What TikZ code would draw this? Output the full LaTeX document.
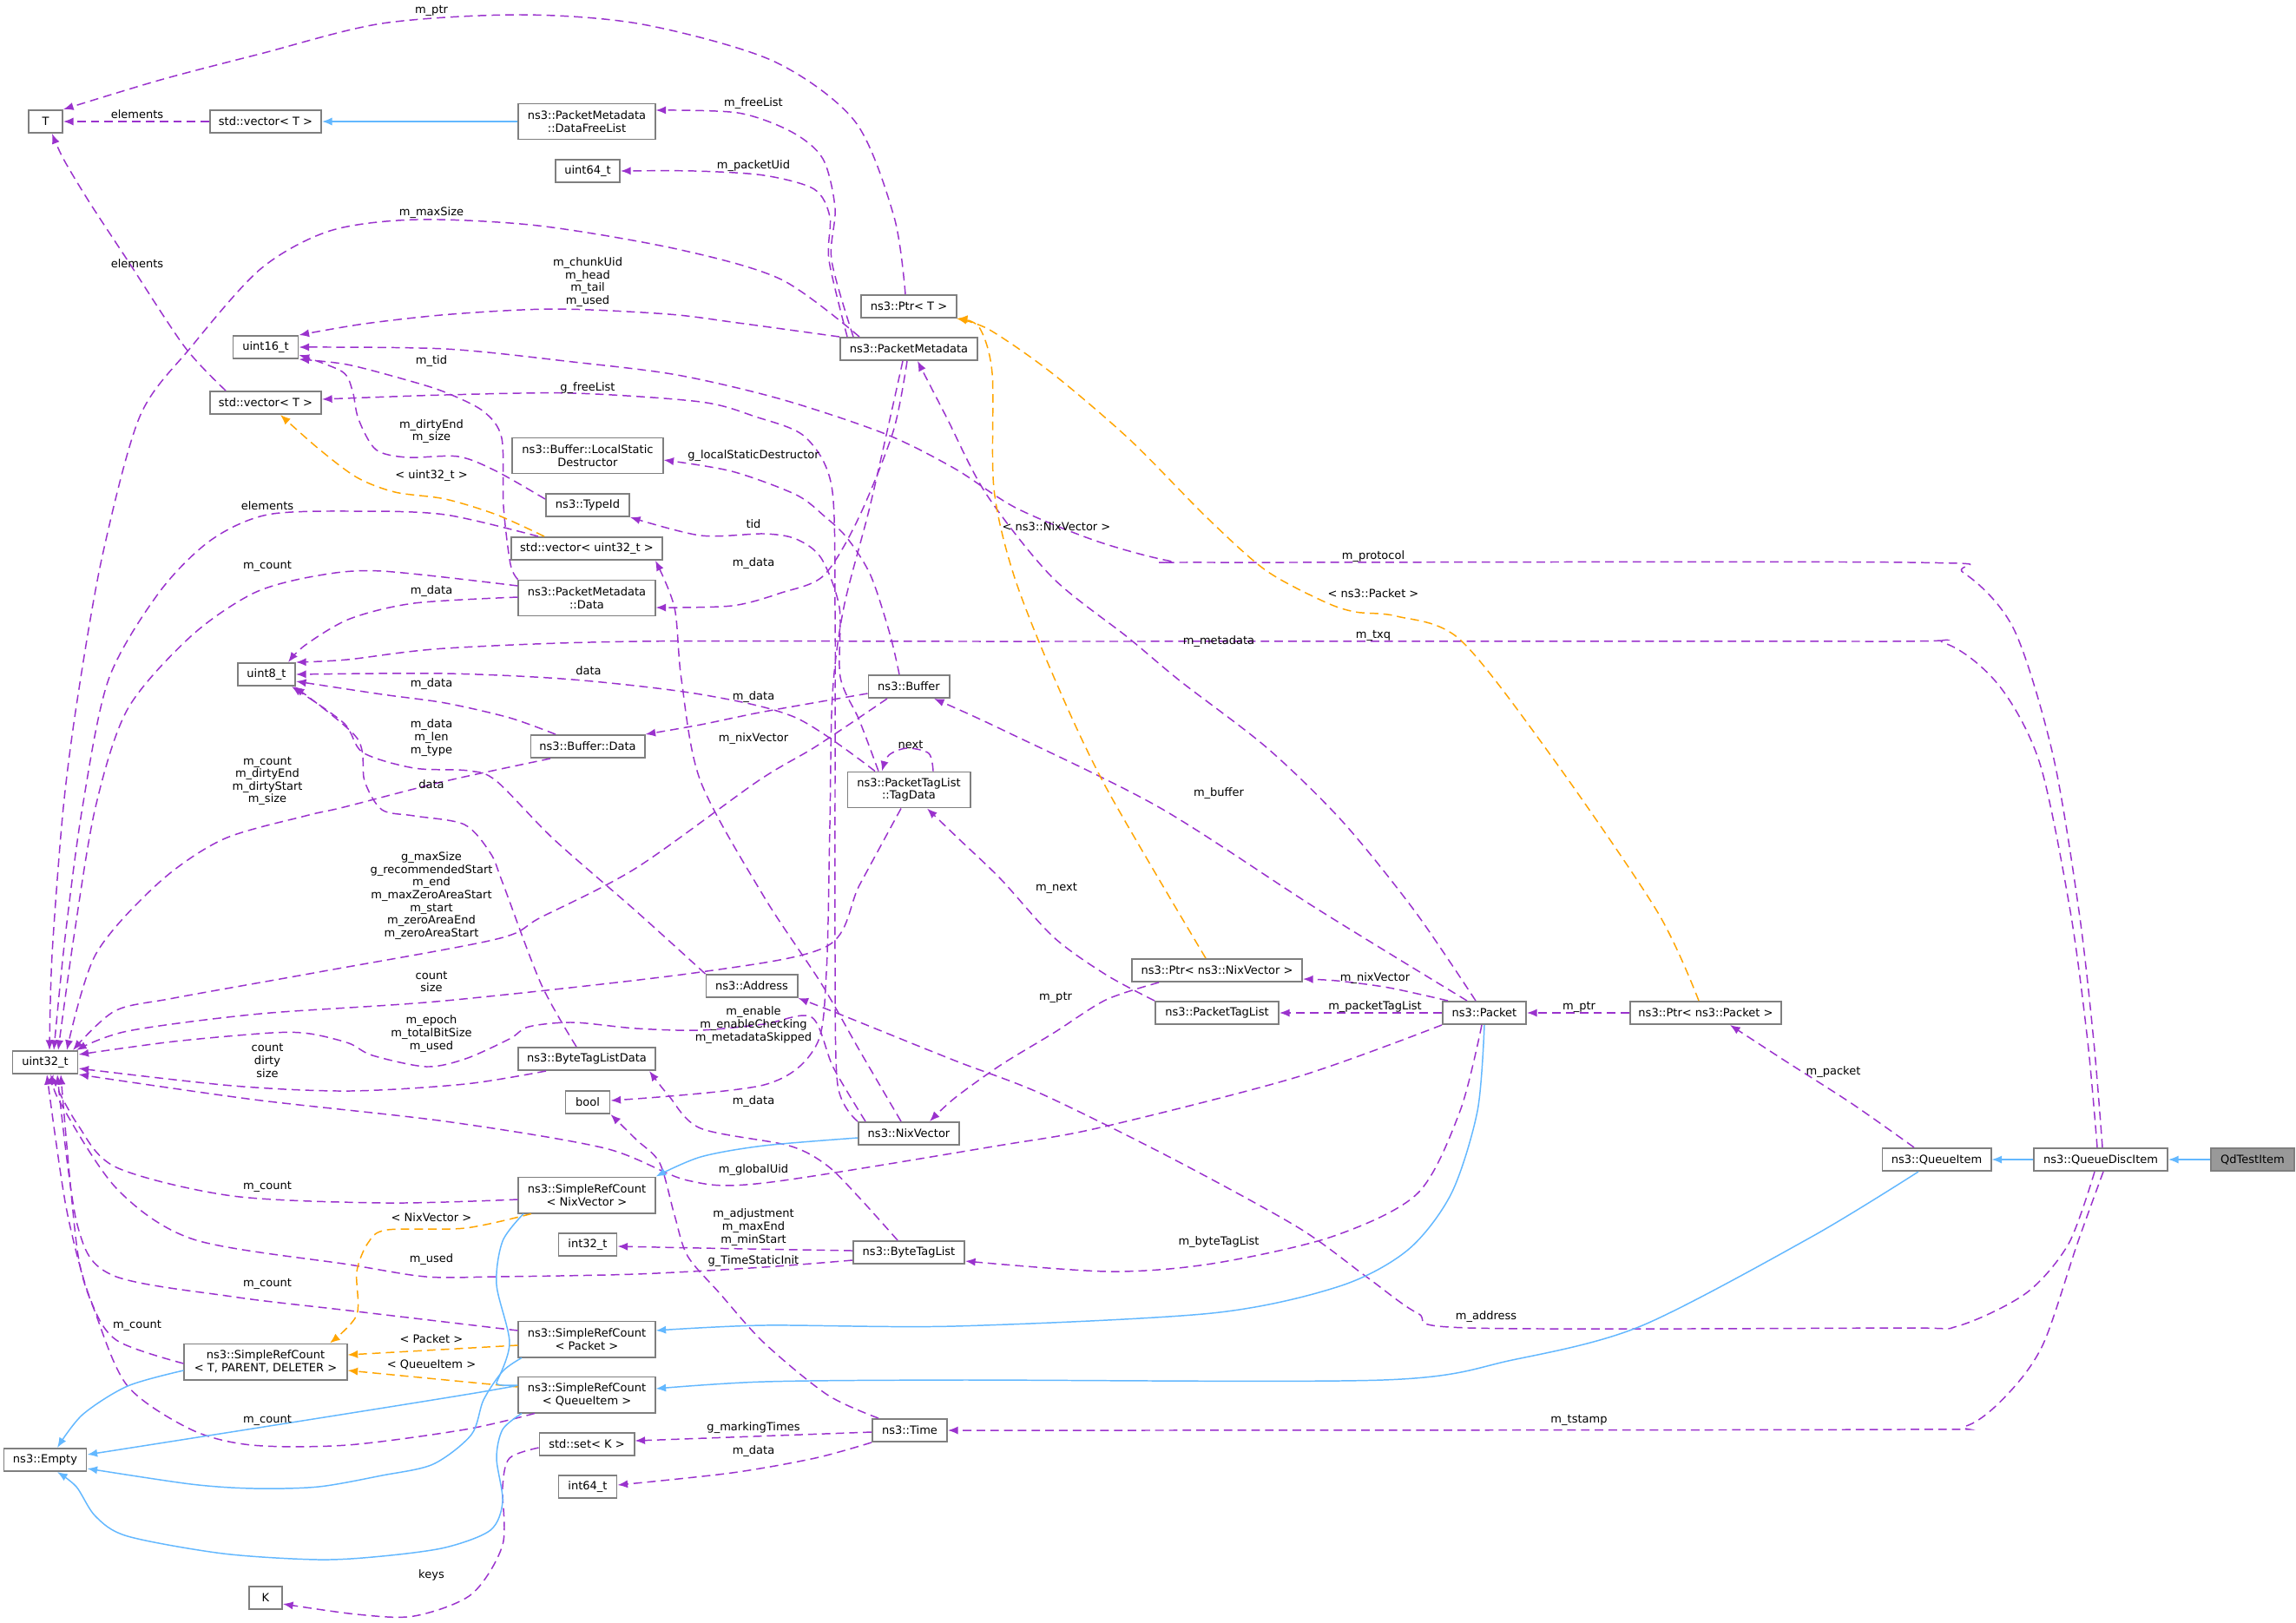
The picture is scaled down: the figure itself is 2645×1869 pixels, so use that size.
\documentclass[tikz,border=0pt]{standalone}
\usepackage{fontspec}
\setmainfont{DejaVu Sans}
\usetikzlibrary{arrows.meta}
\definecolor{purp}{HTML}{9A32CD}
\definecolor{blu}{HTML}{63B8FF}
\definecolor{orng}{HTML}{FFA500}
\definecolor{boxgray}{HTML}{7F7F7F}
\definecolor{fillgray}{HTML}{999999}
\tikzset{
  box/.style={draw=boxgray, line width=0.55pt, fill=white, inner sep=0pt, minimum height=0.26cm, align=center},
  boxtwo/.style={box, minimum height=0.41cm},
  pdep/.style={draw=purp, line width=0.42pt, dash pattern=on 2.8pt off 1.7pt, -{Latex[length=3.3pt,width=2.6pt]}},
  odep/.style={draw=orng, line width=0.42pt, dash pattern=on 2.8pt off 1.7pt, -{Latex[length=3.3pt,width=2.6pt]}},
  bdep/.style={draw=blu, line width=0.42pt, -{Latex[length=3.3pt,width=2.6pt]}},
  lab/.style={inner sep=0pt, align=center},
}
\begin{document}
\begin{tikzpicture}[x=0.01cm,y=-0.01cm, font=\fontsize{3.7}{4.15}\selectfont]
\fill[white] (0,0) rectangle (2645,1869);
\useasboundingbox (0,0) rectangle (2645,1869);

% ---------- nodes ----------
\node[box, minimum width=0.39cm] (T) at (52.5,140) {T};
\node[box, minimum width=1.28cm] (vecT) at (306,140) {std::vector< T >};
\node[boxtwo, minimum width=1.57cm] (DFL) at (676,140) {ns3::PacketMetadata\\::DataFreeList};
\node[box, minimum width=0.74cm] (u64) at (677,197) {uint64\_t};
\node[box, minimum width=1.10cm] (PtrT) at (1047,353) {ns3::Ptr< T >};
\node[box, minimum width=1.58cm] (PM) at (1047,402) {ns3::PacketMetadata};
\node[box, minimum width=0.75cm] (u16) at (306,400) {uint16\_t};
\node[box, minimum width=1.28cm] (vecT2) at (306,464) {std::vector< T >};
\node[boxtwo, minimum width=1.73cm] (LSD) at (677,525) {ns3::Buffer::LocalStatic\\Destructor};
\node[box, minimum width=0.96cm] (TypeId) at (677,582) {ns3::TypeId};
\node[box, minimum width=1.74cm] (vecU32) at (676,632) {std::vector< uint32\_t >};
\node[boxtwo, minimum width=1.57cm] (PMData) at (676,689) {ns3::PacketMetadata\\::Data};
\node[box, minimum width=0.66cm] (u8) at (307,777) {uint8\_t};
\node[box, minimum width=0.93cm] (Buffer) at (1047,791) {ns3::Buffer};
\node[box, minimum width=1.31cm] (BufData) at (677,860) {ns3::Buffer::Data};
\node[boxtwo, minimum width=1.41cm] (TagData) at (1047,910) {ns3::PacketTagList\\::TagData};
\node[box, minimum width=1.05cm] (Address) at (866,1136) {ns3::Address};
\node[box, minimum width=0.75cm] (u32) at (52,1224) {uint32\_t};
\node[box, minimum width=1.57cm] (BTLD) at (676,1220) {ns3::ByteTagListData};
\node[box, minimum width=0.51cm] (bool) at (677,1270) {bool};
\node[box, minimum width=1.16cm] (Nix) at (1047,1306) {ns3::NixVector};
\node[boxtwo, minimum width=1.57cm] (SRCNix) at (676,1377) {ns3::SimpleRefCount\\< NixVector >};
\node[box, minimum width=0.67cm] (i32) at (677,1434) {int32\_t};
\node[box, minimum width=1.28cm] (BTL) at (1047,1443) {ns3::ByteTagList};
\node[boxtwo, minimum width=1.57cm] (SRCPacket) at (676,1543) {ns3::SimpleRefCount\\< Packet >};
\node[boxtwo, minimum width=1.87cm] (SRCT) at (306,1569) {ns3::SimpleRefCount\\< T, PARENT, DELETER >};
\node[boxtwo, minimum width=1.57cm] (SRCQI) at (676,1607) {ns3::SimpleRefCount\\< QueueItem >};
\node[box, minimum width=0.86cm] (Time) at (1048,1648) {ns3::Time};
\node[box, minimum width=1.09cm] (setK) at (676,1664) {std::set< K >};
\node[box, minimum width=0.95cm] (Empty) at (52,1682) {ns3::Empty};
\node[box, minimum width=0.67cm] (i64) at (677,1713) {int64\_t};
\node[box, minimum width=0.38cm] (K) at (306,1841) {K};
\node[box, minimum width=1.96cm] (PtrNix) at (1402,1118) {ns3::Ptr< ns3::NixVector >};
\node[box, minimum width=1.42cm] (PTL) at (1402,1167) {ns3::PacketTagList};
\node[box, minimum width=0.96cm] (Packet) at (1710,1167) {ns3::Packet};
\node[box, minimum width=1.74cm] (PtrPacket) at (1965,1167) {ns3::Ptr< ns3::Packet >};
\node[box, minimum width=1.25cm] (QI) at (2231,1336) {ns3::QueueItem};
\node[box, minimum width=1.54cm] (QDI) at (2420,1336) {ns3::QueueDiscItem};
\node[box, minimum width=0.96cm, fill=fillgray] (Qd) at (2595,1336) {QdTestItem};

% ---------- straight connectors ----------
\draw[bdep] (DFL.west) -- (vecT.east);
\draw[bdep] (Qd.west) -- (QDI.east);
\draw[bdep] (QDI.west) -- (QI.east);
\draw[pdep] (vecT.west) -- (T.east);
\draw[pdep] (Packet.west) -- (PTL.east);
\draw[pdep] (PtrPacket.west) -- (Packet.east);

% ---------- curved connectors ----------
\draw[pdep] plot[smooth] coordinates {(1043,0 |- PtrT.north) (1030,250) (985,140) (890,70) (740,28) (600,17) (440,27) (300,62) (185,92) (T.north east)};
\draw[pdep] plot[smooth] coordinates {(983,0 |- PM.north) (958,300) (962,240) (948,183) (912,152) (850,130) (DFL.east |- 0,127)};
\draw[pdep] plot[smooth] coordinates {(976,0 |- PM.north) (955,300) (956,250) (938,218) (880,202) (800,197) (u64.east)};
\draw[pdep] plot[smooth] coordinates {(990,0 |- PM.north) (900,322) (780,287) (620,260) (480,253) (380,266) (300,310) (220,400) (161,480) (118,640) (90,800) (73,930) (60,1100) (57,0 |- u32.north)};
\draw[pdep] plot[smooth] coordinates {(PM.north west) (850,372) (770,362) (640,356) (520,362) (420,373) (u16.north east)};
\draw[pdep] plot[smooth] coordinates {(2422,0 |- QDI.north) (2412,1200) (2395,1050) (2365,870) (2320,725) (2262,660) (2200,648) (1400,648) (1346,646) (1262,623) (1170,585) (1100,540) (1020,500) (900,460) (780,432) (660,417) (513,402) (u16.east)};
\draw[pdep] plot[smooth] coordinates {(2416,0 |- QDI.north) (2405,1200) (2385,1050) (2350,880) (2303,790) (2240,741) (2150,739) (1150,739) (733,739) (513,747) (400,760) (u8.north east)};
\draw[pdep] plot[smooth] coordinates {(1045,0 |- PM.south) (1029,497) (989,597) (949,663) (900,683) (843,698) (PMData.east |- 0,700)};
\draw[pdep] plot[smooth] coordinates {(1040,0 |- PM.south) (1003,580) (972,700) (959,800) (956,950) (952,1120) (940,1205) (880,1250) (bool.east |- 0,1268)};
\draw[pdep] plot[smooth] coordinates {(1700,0 |- Packet.north) (1630,1050) (1547,947) (1460,862) (1360,785) (1300,735) (1212,665) (1136,569) (1090,480) (1057,0 |- PM.south)};
\draw[pdep] plot[smooth] coordinates {(1690,0 |- Packet.north) (1517,1047) (1335,930) (1153,840) (1076,0 |- Buffer.south)};
\draw[pdep] plot[smooth] coordinates {(Buffer.west |- 0,799) (880,820) (807,835) (BufData.north east)};
\draw[pdep] plot[smooth] coordinates {(1036,0 |- Buffer.north) (1025,730) (1003,663) (976,620) (950,595) (917,570) (843,543) (LSD.east |- 0,530)};
\draw[pdep] plot[smooth] coordinates {(1022,0 |- Buffer.south) (940,860) (873,900) (733,1000) (623,1057) (572,1082) (367,1120) (200,1150) (132,1165) (84,0 |- u32.north)};
\draw[pdep] plot[smooth] coordinates {(1012,0 |- TagData.north) (990,830) (968,780) (967,700) (946,643) (917,621) (880,615) (807,617) (TypeId.south east)};
\draw[pdep] plot[smooth] coordinates {(1008,0 |- TagData.north) (917,827) (807,800) (660,783) (513,776) (u8.east)};
\draw[pdep] plot[smooth] coordinates {(1038,0 |- TagData.south) (990,1020) (953,1090) (807,1120) (513,1153) (300,1168) (147,1188) (88,0 |- u32.north)};
\draw[pdep] plot[smooth] coordinates {(1075,0 |- TagData.north) (1070,868) (1045,862) (1024,870) (1016,0 |- TagData.north)};
\draw[pdep] plot[smooth] coordinates {(TypeId.west |- 0,575) (572,543) (528,526) (469,527) (433,518) (413,483) (406,450) (394,428) (u16.east |- 0,409)};
\draw[pdep] plot[smooth] coordinates {(PMData.north west) (588,650) (580,583) (578,505) (557,474) (513,452) (469,438) (400,420) (u16.south east)};
\draw[odep] plot[smooth] coordinates {(627,0 |- vecU32.north) (572,593) (513,575) (455,567) (411,550) (367,517) (323,0 |- vecT2.south)};
\draw[pdep] plot[smooth] coordinates {(620,0 |- vecU32.north) (513,593) (411,589) (308,593) (242,623) (183,683) (125,783) (95,930) (75,1080) (62,0 |- u32.north)};
\draw[pdep] plot[smooth] coordinates {(PMData.west |- 0,675) (440,658) (367,663) (293,683) (220,733) (147,817) (110,930) (85,1080) (67,0 |- u32.north)};
\draw[pdep] plot[smooth] coordinates {(PMData.west |- 0,688) (477,695) (403,713) (352,743) (332,0 |- u8.north)};
\draw[pdep] plot[smooth] coordinates {(260,0 |- vecT2.north) (213,400) (147,300) (103,233) (73,183) (60,0 |- T.south)};
\draw[pdep] plot[smooth] coordinates {(640,0 |- BufData.north) (587,827) (513,810) (440,800) (u8.east |- 0,785)};
\draw[pdep] plot[smooth] coordinates {(634,0 |- BufData.south) (513,900) (396,930) (352,940) (257,967) (183,1017) (110,1100) (77,0 |- u32.north)};
\draw[pdep] plot[smooth] coordinates {(Address.north west) (733,1050) (638,967) (572,900) (540,888) (477,885) (418,867) (396,833) (336,0 |- u8.south)};
\draw[pdep] plot[smooth] coordinates {(664,0 |- BTLD.north) (623,1133) (579,1017) (565,983) (535,950) (477,940) (440,933) (420,900) (411,850) (339,0 |- u8.south)};
\draw[pdep] plot[smooth] coordinates {(629,0 |- BTLD.south) (536,1249) (402,1257) (268,1251) (u32.east |- 0,1231)};
\draw[pdep] plot[smooth] coordinates {(1038,0 |- Nix.north) (990,1210) (946,1133) (880,1033) (807,900) (785,783) (777,700) (755,0 |- vecU32.south)};
\draw[pdep] plot[smooth] coordinates {(Nix.north west) (965,1250) (962,1100) (962,900) (962,700) (958,560) (927,503) (870,480) (807,463) (660,453) (513,455) (vecT2.east |- 0,460)};
\draw[pdep] plot[smooth] coordinates {(997,0 |- Nix.north) (960,1230) (935,1172) (880,1180) (807,1187) (733,1185) (660,1178) (609,1183) (587,1197) (536,1220) (491,1229) (429,1216) (402,1202) (357,1191) (313,1190) (200,1200) (u32.east |- 0,1215)};
\draw[pdep] plot[smooth] coordinates {(Packet.south west) (1494,1241) (1268,1299) (1150,1320) (880,1363) (792,1360) (697,1323) (513,1292) (293,1267) (u32.south east)};
\draw[pdep] plot[smooth] coordinates {(1335,0 |- PtrNix.south) (1274,1152) (1214,1190) (1153,1227) (1100,1265) (1071,0 |- Nix.north)};
\draw[pdep] plot[smooth] coordinates {(PTL.north west) (1274,1123) (1214,1080) (1153,1013) (1105,967) (1068,0 |- TagData.south)};
\draw[odep] plot[smooth] coordinates {(1389,0 |- PtrNix.north) (1274,907) (1214,780) (1168,663) (1145,563) (1143,430) (1128,377) (PtrT.south east)};
\draw[odep] plot[smooth] coordinates {(1957,0 |- PtrPacket.north) (1909,1050) (1787,871) (1682,737) (1609,710) (1561,705) (1525,693) (1458,657) (1391,597) (1302,507) (1212,430) (1140,380) (1102,0 |- PtrT.south)};
\draw[pdep] plot[smooth] coordinates {(1668,0 |- Packet.north) (1600,1138) (1540,1130) (PtrNix.east |- 0,1128)};
\draw[pdep] plot[smooth] coordinates {(2205,0 |- QI.north) (2134,1272) (2056,1222) (1993,0 |- PtrPacket.south)};
\draw[pdep] plot[smooth] coordinates {(1707,0 |- Packet.south) (1682,1280) (1633,1375) (1534,1425) (1396,1456) (1277,1465) (BTL.east |- 0,1453)};
\draw[pdep] plot[smooth] coordinates {(2413,0 |- QDI.south) (2383,1433) (2334,1490) (2255,1528) (2186,1530) (1692,1530) (1633,1513) (1574,1471) (1495,1414) (1347,1333) (1199,1260) (1100,1222) (971,1170) (Address.south east)};
\draw[pdep] plot[smooth] coordinates {(2423,0 |- QDI.south) (2393,1433) (2354,1548) (2314,1605) (2265,1643) (2186,1647) (1300,1648) (Time.east)};
\draw[pdep] plot[smooth] coordinates {(BTL.west |- 0,1441) (807,1438) (i32.east |- 0,1436)};
\draw[pdep] plot[smooth] coordinates {(BTL.west |- 0,1452) (880,1460) (733,1468) (572,1471) (491,1471) (402,1457) (223,1428) (134,1369) (67,1266) (62,0 |- u32.south)};
\draw[pdep] plot[smooth] coordinates {(1034,0 |- BTL.north) (990,1380) (953,1343) (909,1320) (807,1300) (770,1262) (748,0 |- BTLD.south)};
\draw[pdep] plot[smooth] coordinates {(1012,0 |- Time.north) (953,1607) (880,1547) (829,1490) (792,1447) (777,1400) (760,1340) (733,1313) (bool.south east)};
\draw[pdep] plot[smooth] coordinates {(Time.west |- 0,1650) (868,1655) (setK.east |- 0,1660)};
\draw[pdep] plot[smooth] coordinates {(Time.south west) (939,1680) (843,1697) (i64.east |- 0,1711)};
\draw[pdep] plot[smooth] coordinates {(setK.west |- 0,1668) (587,1680) (579,1713) (579,1780) (543,1837) (477,1862) (411,1860) (K.east |- 0,1848)};
\draw[pdep] plot[smooth] coordinates {(SRCNix.west |- 0,1382) (446,1386) (268,1378) (134,1345) (89,1295) (58,0 |- u32.south)};
\draw[pdep] plot[smooth] coordinates {(SRCPacket.west |- 0,1533) (402,1510) (268,1494) (129,1469) (89,1411) (66,0 |- u32.south)};
\draw[pdep] plot[smooth] coordinates {(SRCT.west |- 0,1571) (134,1544) (103,1494) (76,1390) (54,0 |- u32.south)};
\draw[pdep] plot[smooth] coordinates {(616,0 |- SRCQI.south) (536,1647) (400,1665) (290,1665) (220,1647) (147,1597) (110,1513) (89,1440) (70,0 |- u32.south)};
\draw[odep] plot[smooth] coordinates {(612,0 |- SRCNix.south) (536,1415) (446,1417) (424,1432) (411,1465) (411,1515) (380,0 |- SRCT.north)};
\draw[odep] plot[smooth] coordinates {(SRCPacket.west |- 0,1550) (SRCT.east |- 0,1561)};
\draw[odep] plot[smooth] coordinates {(SRCQI.west |- 0,1598) (SRCT.east |- 0,1579)};
\draw[bdep] plot[smooth] coordinates {(Nix.west |- 0,1311) (880,1320) (807,1333) (SRCNix.north east)};
\draw[bdep] plot[smooth] coordinates {(1710,0 |- Packet.south) (1702,1280) (1672,1375) (1622,1440) (1543,1482) (1396,1513) (1100,1528) (880,1527) (SRCPacket.east |- 0,1533)};
\draw[bdep] plot[smooth] coordinates {(2210,0 |- QI.south) (2087,1425) (1890,1528) (1742,1567) (1593,1590) (1100,1590) (880,1592) (SRCQI.east |- 0,1600)};
\draw[bdep] plot[smooth] coordinates {(SRCT.west |- 0,1579) (147,1597) (95,1630) (66,0 |- Empty.north)};
\draw[bdep] plot[smooth] coordinates {(603,0 |- SRCNix.south) (579,1430) (572,1480) (587,1547) (572,1593) (565,1602) (Empty.east |- 0,1676)};
\draw[bdep] plot[smooth] coordinates {(601,0 |- SRCPacket.south) (579,1580) (557,1613) (543,1653) (499,1687) (440,1700) (367,1713) (293,1715) (220,1710) (Empty.east |- 0,1692)};
\draw[bdep] plot[smooth] coordinates {(601,0 |- SRCQI.south) (579,1647) (572,1680) (579,1730) (565,1763) (513,1783) (440,1793) (367,1797) (257,1790) (147,1770) (110,1747) (88,1713) (66,0 |- Empty.south)};

% ---------- labels ----------
\node[lab] (l01) at (497,12) {m\_ptr};
\node[lab] (l02) at (158,132) {elements};
\node[lab] (l03) at (868,119) {m\_freeList};
\node[lab] (l04) at (868,191) {m\_packetUid};
\node[lab] (l05) at (497,245) {m\_maxSize};
\node[lab] (l06) at (158,304) {elements};
\node[lab] (l07) at (677,325) {m\_chunkUid\\m\_head\\m\_tail\\m\_used};
\node[lab] (l08) at (497,416) {m\_tid};
\node[lab] (l09) at (677,447) {g\_freeList};
\node[lab] (l10) at (497,497) {m\_dirtyEnd\\m\_size};
\node[lab] (l11) at (868,525) {g\_localStaticDestructor};
\node[lab] (l12) at (497,548) {< uint32\_t >};
\node[lab] (l13) at (308,583) {elements};
\node[lab] (l14) at (868,604) {tid};
\node[lab] (l15) at (1217,607) {< ns3::NixVector >};
\node[lab] (l16) at (1582,641) {m\_protocol};
\node[lab] (l17) at (308,652) {m\_count};
\node[lab] (l18) at (868,649) {m\_data};
\node[lab] (l19) at (497,681) {m\_data};
\node[lab] (l20) at (1582,684) {< ns3::Packet >};
\node[lab] (l21) at (1582,732) {m\_txq};
\node[lab] (l22) at (1404,739) {m\_metadata};
\node[lab] (l23) at (678,773) {data};
\node[lab] (l24) at (497,788) {m\_data};
\node[lab] (l25) at (868,803) {m\_data};
\node[lab] (l26) at (497,850) {m\_data\\m\_len\\m\_type};
\node[lab] (l27) at (868,851) {m\_nixVector};
\node[lab] (l28) at (1049,858) {next};
\node[lab] (l29) at (308,900) {m\_count\\m\_dirtyEnd\\m\_dirtyStart\\m\_size};
\node[lab] (l30) at (497,904) {data};
\node[lab] (l31) at (1404,914) {m\_buffer};
\node[lab] (l32) at (1217,1023) {m\_next};
\node[lab] (l33) at (497,1032) {g\_maxSize\\g\_recommendedStart\\m\_end\\m\_maxZeroAreaStart\\m\_start\\m\_zeroAreaEnd\\m\_zeroAreaStart};
\node[lab] (l34) at (497,1131) {count\\size};
\node[lab] (l35) at (1584,1127) {m\_nixVector};
\node[lab] (l36) at (1216,1149) {m\_ptr};
\node[lab] (l37) at (1584,1160) {m\_packetTagList};
\node[lab] (l38) at (1819,1160) {m\_ptr};
\node[lab] (l39) at (868,1181) {m\_enable\\m\_enableChecking\\m\_metadataSkipped};
\node[lab] (l40) at (497,1191) {m\_epoch\\m\_totalBitSize\\m\_used};
\node[lab] (l41) at (308,1222) {count\\dirty\\size};
\node[lab] (l42) at (2112,1235) {m\_packet};
\node[lab] (l43) at (868,1269) {m\_data};
\node[lab] (l44) at (868,1348) {m\_globalUid};
\node[lab] (l45) at (308,1367) {m\_count};
\node[lab] (l46) at (497,1403) {< NixVector >};
\node[lab] (l47) at (868,1414) {m\_adjustment\\m\_maxEnd\\m\_minStart};
\node[lab] (l48) at (1404,1431) {m\_byteTagList};
\node[lab] (l49) at (497,1451) {m\_used};
\node[lab] (l50) at (868,1453) {g\_TimeStaticInit};
\node[lab] (l51) at (308,1479) {m\_count};
\node[lab] (l52) at (1712,1517) {m\_address};
\node[lab] (l53) at (158,1527) {m\_count};
\node[lab] (l54) at (497,1543) {< Packet >};
\node[lab] (l55) at (497,1572) {< QueueItem >};
\node[lab] (l56) at (308,1636) {m\_count};
\node[lab] (l57) at (1819,1636) {m\_tstamp};
\node[lab] (l58) at (868,1645) {g\_markingTimes};
\node[lab] (l59) at (868,1672) {m\_data};
\node[lab] (l60) at (497,1815) {keys};
\end{tikzpicture}
\end{document}
